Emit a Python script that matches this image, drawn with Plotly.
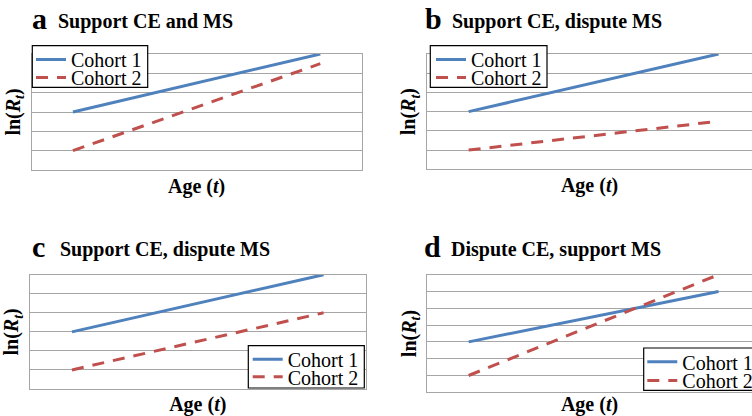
import plotly.graph_objects as go

# ---------------- data ----------------
ages = [1, 2, 3, 4]                      # category positions along Age (t)
series_names = ["Cohort 1", "Cohort 2"]

a_cohort1 = [3, 4, 5, 6]
a_cohort2 = [1, 2.5, 4, 5.5]
b_cohort1 = [3, 4, 5, 6]
b_cohort2 = [1, 1.5, 2, 2.5]
c_cohort1 = [3, 4, 5, 6]
c_cohort2 = [1, 2, 3, 4]
d_cohort1 = [3, 4, 5, 6]
d_cohort2 = [1, 3, 5, 7]

panel_letters = ["a", "b", "c", "d"]
panel_titles = ["Support CE and MS", "Support CE, dispute MS",
                "Support CE, dispute MS", "Dispute CE, support MS"]
y_max = [6, 6, 6, 7]
x_title = "Age (<i>t</i>)"
y_title = "ln(<i>R</i><sub><i>t</i></sub>)"

# ---------------- styling / geometry ----------------
W, H = 752, 416
FONT = "Liberation Serif"
BLUE = "#4F81BD"
RED = "#C0504D"
GRID = "#A6A6A6"


def px(x):
    return x / W


def py(y):
    return 1 - y / H


panels = [
    dict(data=(a_cohort1, a_cohort2), x0=31.7, x1=361.5, xr=(0.5, 4.5), top=54, bot=170, mirror=True,
         letter=(29.5, 29.3), title=(55.5, 29.3),
         box=(32.3, 45.7, 147.7, 87.3), leg=(31.0, 59.5, 77.5)),
    dict(data=(b_cohort1, b_cohort2), x0=427, x1=752, xr=(0.5, 0.5 + (752 - 427) / 83.3), top=54, bot=169.3, mirror=False,
         letter=(423.0, 30.0), title=(449.5, 30.0),
         box=(430.3, 45.7, 547.0, 87.3), leg=(431.0, 59.5, 77.5)),
    dict(data=(c_cohort1, c_cohort2), x0=30, x1=365.5, xr=(0.5, 4.5), top=274.7, bot=389, mirror=True,
         letter=(29.5, 258.0), title=(57.5, 258.0),
         box=(248.3, 345.7, 364.3, 388.0), leg=(247.7, 359.2, 376.8)),
    dict(data=(d_cohort1, d_cohort2), x0=427, x1=752, xr=(0.5, 0.5 + (752 - 427) / 83.3), top=274.7, bot=392.3, mirror=False,
         letter=(422.0, 258.0), title=(448.5, 258.0),
         box=(643.7, 348.0, 770.0, 390.3), leg=(642.3, 361.8, 380.5)),
]

fig = go.Figure()
layout = dict(
    width=W, height=H,
    margin=dict(l=0, r=0, t=0, b=0, autoexpand=False),
    paper_bgcolor="white", plot_bgcolor="white",
    font=dict(family=FONT, color="black"),
    showlegend=True,
    annotations=[], shapes=[],
)

for i, p in enumerate(panels):
    n = "" if i == 0 else str(i + 1)
    xa, ya = "x" + n, "y" + n
    c1, c2 = p["data"]
    lg1 = "legend" if i == 0 else "legend" + str(2 * i + 1)
    lg2 = "legend" + str(2 * i + 2)

    fig.add_trace(go.Scatter(x=ages, y=c1, name=series_names[0], mode="lines",
                             line=dict(color=BLUE, width=3), xaxis=xa, yaxis=ya,
                             legend=lg1, hoverinfo="skip"))
    fig.add_trace(go.Scatter(x=ages, y=c2, name=series_names[1], mode="lines",
                             line=dict(color=RED, width=3, dash="12px,9px"), xaxis=xa, yaxis=ya,
                             legend=lg2, hoverinfo="skip"))

    layout["xaxis" + n] = dict(
        domain=[px(p["x0"]), min(1.0, px(p["x1"]))], range=list(p["xr"]), anchor=ya,
        showgrid=False, zeroline=False, showticklabels=False, ticks="",
        showline=True, linecolor=GRID, linewidth=1, mirror=True,
        title=dict(text=x_title, standoff=8,
                   font=dict(family=FONT, size=20, color="black", weight="bold")),
    )
    layout["yaxis" + n] = dict(
        domain=[py(p["bot"]), py(p["top"])], range=[0, y_max[i]], anchor=xa,
        dtick=1, tick0=0, showgrid=True, gridcolor=GRID, gridwidth=1,
        zeroline=False, showticklabels=False, ticks="",
        showline=True, linecolor=GRID, linewidth=1, mirror=p["mirror"],
        title=dict(text=y_title, standoff=4,
                   font=dict(family=FONT, size=20, color="black", weight="bold")),
    )

    # legend box
    bx0, by0, bx1, by1 = p["box"]
    layout["shapes"].append(dict(type="rect", xref="paper", yref="paper",
                                 x0=px(bx0), x1=px(bx1), y0=py(by1), y1=py(by0),
                                 fillcolor="white", line=dict(color="black", width=1.2),
                                 layer="above"))
    lx, ly1, ly2 = p["leg"]
    for lg, ly in ((lg1, ly1), (lg2, ly2)):
        layout[lg] = dict(x=px(lx), y=py(ly), xanchor="left", yanchor="middle",
                          bgcolor="rgba(0,0,0,0)", borderwidth=0,
                          font=dict(family=FONT, size=20, color="black"))

    # panel titles
    lx0, lb = p["letter"]
    layout["annotations"].append(dict(
        text="<b>" + panel_letters[i] + "</b>", xref="paper", yref="paper",
        x=px(lx0), y=py(lb + 0.216 * 30 + 1), xanchor="left", yanchor="bottom",
        showarrow=False, font=dict(family=FONT, size=30, color="black")))
    tx0, tb = p["title"]
    layout["annotations"].append(dict(
        text="<b>" + panel_titles[i] + "</b>", xref="paper", yref="paper",
        x=px(tx0), y=py(tb + 0.216 * 20 + 1), xanchor="left", yanchor="bottom",
        showarrow=False, font=dict(family=FONT, size=20, color="black")))

fig.update_layout(**layout)
fig.write_html("out.html", config={"displayModeBar": False},
               post_script="document.body.style.margin='0';document.body.style.padding='0';")
